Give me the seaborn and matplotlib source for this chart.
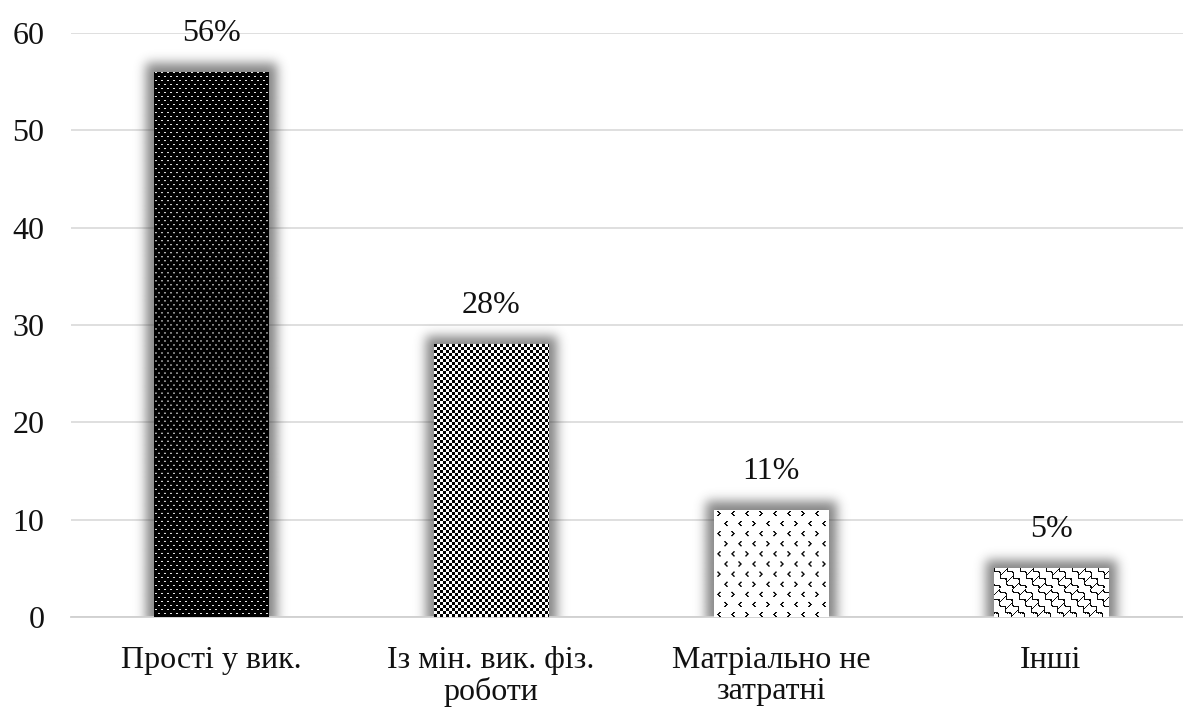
import numpy as np
import pandas as pd
import matplotlib
matplotlib.use("Agg")
import matplotlib.pyplot as plt
import seaborn as sns
from math import erf

categories = ["Прості у вик.", "Із мін. вик. фіз.\nроботи", "Матріально не\nзатратні", "Інші"]
values = [56, 28, 11, 5]
value_labels = ["56%", "28%", "11%", "5%"]
y_ticks = [0, 10, 20, 30, 40, 50, 60]

sns.set_theme(style="white")
plt.rcParams["font.family"] = ["Liberation Serif", "DejaVu Serif"]

W_PX, H_PX, DPI = 1183, 709, 100
fig = plt.figure(figsize=(W_PX / DPI, H_PX / DPI), dpi=DPI)
ax_l, ax_b = 71 / W_PX, (H_PX - 617) / H_PX
ax_w, ax_h = 1120 / W_PX, 584 / H_PX
ax = fig.add_axes([ax_l, ax_b, ax_w, ax_h])

df = pd.DataFrame({"cat": categories, "val": values})
sns.barplot(data=df, x="cat", y="val", ax=ax, width=0.41, color="white",
            edgecolor="none", linewidth=0, zorder=3)

ax.set_xlim(-0.5, 3.5)
ax.set_ylim(0, 60)
px_x = ax_w * W_PX / 4.0      # pixels per category unit
px_y = ax_h * H_PX / 60.0     # pixels per value unit


# ---- fill textures -------------------------------------------------------
def tex_dots(h, w):
    yy, xx = np.mgrid[0:h, 0:w]
    img = np.zeros((h, w))
    m = (((yy % 8 == 1) & ((xx % 6 == 1) | (xx % 6 == 2))) |
         ((yy % 8 == 5) & ((xx % 6 == 4) | (xx % 6 == 5))))
    img[m] = 0.9
    return img


def tex_checker(h, w):
    yy, xx = np.mgrid[0:h, 0:w]
    return ((xx // 3 + yy // 3) % 2).astype(float)


def tex_arrows(h, w):
    img = np.ones((h, w))
    left = np.array([[0, 0, 1, 1], [0, 1, 1, 0], [1, 1, 0, 0], [0, 1, 1, 0], [0, 0, 1, 1]])
    right = left[:, ::-1]
    for yi, y0 in enumerate(range(2, h, 10)):
        off = 3 if yi % 2 == 0 else 10
        for xi, x0 in enumerate(range(off, w, 14)):
            g = left if (xi + yi) % 3 else right
            ys, xs = np.nonzero(g)
            for a, b in zip(ys + y0, xs + x0):
                if a < h and b < w:
                    img[a, b] = 0.05
    return img


def tex_weave(h, w):
    yy, xx = np.mgrid[0:h, 0:w].astype(float)
    p = 13.0
    u = (xx - yy * 0.9 + 2.2 * np.sin(2 * np.pi * (xx + yy) / p)) % p
    line1 = np.minimum(u, p - u) < 1.0
    v = (xx + yy) % p
    cell = np.floor((xx - yy * 0.9) / p)
    line2 = (np.minimum(v, p - v) < 0.9) & (cell % 2 == 0)
    img = np.ones((h, w))
    img[line1 | line2] = 0.05
    return img


textures = [tex_dots, tex_checker, tex_arrows, tex_weave]


def shadow_alpha(W, H, m, grow=8.0, sigma=5.5, amp=0.6):
    xs = np.arange(-m, W + m) + 0.5
    ys = np.arange(-m, H + m) + 0.5
    s = sigma * np.sqrt(2)
    fx = np.array([0.5 * (erf((x + grow) / s) - erf((x - W - grow) / s)) for x in xs])
    fy = np.array([0.5 * (erf((y + grow) / s) - erf((y - H - grow) / s)) for y in ys])
    return amp * np.outer(fy[::-1], fx)


for i, (patch, tex) in enumerate(zip(ax.patches, textures)):
    x0, w = patch.get_x(), patch.get_width()
    h = patch.get_height()
    Wp = int(round(w * px_x))
    Hp = max(int(round(h * px_y)), 1)

    # soft glow around the bar
    m = 30
    a = shadow_alpha(Wp, Hp, m)
    rgba = np.zeros(a.shape + (4,))
    rgba[..., :3] = 0.2
    rgba[..., 3] = a
    ax.imshow(rgba, extent=(x0 - m / px_x, x0 + w + m / px_x, -m / px_y, h + m / px_y),
              origin="upper", aspect="auto", interpolation="bilinear", zorder=2.5)

    # patterned fill clipped to the bar
    img = tex(Hp, Wp)
    im = ax.imshow(img, cmap="gray", vmin=0, vmax=1, extent=(x0, x0 + w, 0, h),
                   origin="upper", aspect="auto", interpolation="antialiased", zorder=3.5)
    im.set_clip_path(patch)

    ax.annotate(value_labels[i], (x0 + w / 2, h),
                xytext=(0, 28), textcoords="offset points", ha="center", va="center",
                fontsize=23, color="#111111", annotation_clip=False)

ax.set_xlim(-0.5, 3.5)
ax.set_ylim(0, 60)
ax.set_yticks(y_ticks)
ax.set_yticklabels([str(t) for t in y_ticks])
ax.set_xlabel("")
ax.set_ylabel("")
ax.tick_params(axis="both", length=0, labelsize=23, labelcolor="#111111")
ax.tick_params(axis="y", pad=19)
ax.tick_params(axis="x", pad=21)
for lab in ax.get_xticklabels():
    lab.set_linespacing(1.1)

ax.yaxis.grid(True, color="#d9d9d9", linewidth=1.2, zorder=0)
ax.set_axisbelow(True)
for side in ["left", "right", "top"]:
    ax.spines[side].set_visible(False)
ax.spines["bottom"].set_color("#d0d0d0")
ax.spines["bottom"].set_linewidth(1.3)

fig.savefig("out.png", dpi=DPI)
